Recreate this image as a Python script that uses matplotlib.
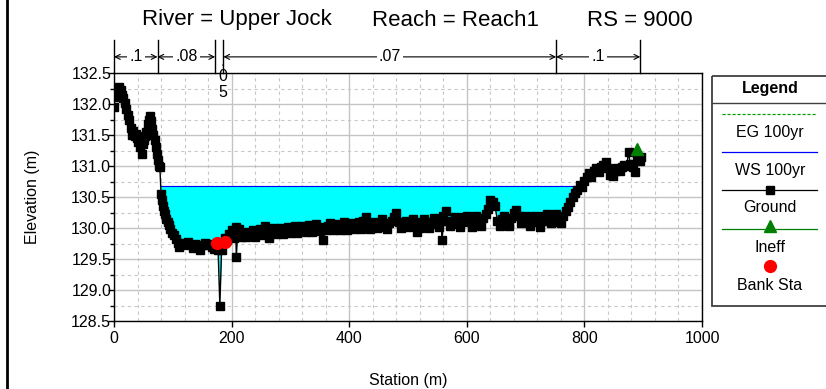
import matplotlib
matplotlib.use("Agg")
import matplotlib.pyplot as plt
from matplotlib.lines import Line2D
from matplotlib.patches import Rectangle
from matplotlib.ticker import MultipleLocator
import numpy as np

plt.rcParams['font.family'] = ['Liberation Sans', 'DejaVu Sans']

# ---------------- data ----------------
ground_sta = [0, 2, 4, 6, 9, 12, 14, 16, 18, 21, 24, 26, 29, 31, 33, 35, 37, 39, 41, 43, 45, 47, 49, 51, 53, 55, 57, 59, 61, 63, 65, 67, 69, 71, 73, 75, 77, 78,
              80, 81, 83, 85, 87, 89, 91, 93, 96, 99, 102, 105, 108, 111, 114, 118, 122, 126, 130, 134, 138, 142, 146, 150, 154, 158, 162, 166, 170, 174, 177,
              180, 183,
              186, 189, 192, 195, 198, 201, 204, 207, 208, 210, 213, 216, 220, 224, 228, 232, 236, 240, 244, 248, 252, 256, 260, 264, 268, 272, 276, 280, 284,
              288, 292, 296, 300, 304, 308, 312, 316, 320, 324, 328, 332, 336, 340, 344, 348, 352, 356, 360, 364, 368, 372, 376, 380, 384, 388, 392, 396, 400,
              404, 408, 412, 416, 420, 424, 428, 432, 436, 440, 444, 448, 452, 456, 460, 464, 468, 472, 476, 480, 484, 488, 492, 496, 500, 504, 508, 512, 516,
              520, 524, 528, 532, 536, 540, 544, 548, 552, 556, 558, 560, 564, 568, 572, 576, 580, 584, 588, 592, 596, 600, 604, 608, 612, 616, 620, 624, 628,
              632, 636, 640, 644, 648, 652, 656, 660, 664, 668, 672, 676, 680, 684, 688, 692, 696, 700, 704, 708, 712, 716, 720, 724, 728, 732, 736, 740, 744,
              748, 752, 756, 760, 764, 768, 772, 776, 780, 784, 788, 792, 796, 800, 804, 808, 812, 816, 820, 824, 828, 832, 836, 840, 844, 848, 852, 856, 860,
              864, 868, 872, 875, 878, 882, 886, 890, 894, 897]
ground_elev = [131.95, 132.12, 132.18, 132.25, 132.27, 132.22, 132.15, 132.10, 132.02, 131.92, 131.82, 131.74, 131.62, 131.50, 131.56, 131.48, 131.52,
               131.45, 131.38, 131.42, 131.30, 131.20, 131.36, 131.42, 131.48, 131.55, 131.68, 131.75, 131.80, 131.72, 131.60, 131.50, 131.42, 131.30,
               131.20, 131.10, 131.00, 130.98,
               130.55, 130.45, 130.35, 130.28, 130.22, 130.15, 130.10, 130.05, 129.98, 129.92, 129.88, 129.82, 129.76, 129.70, 129.72, 129.76, 129.74,
               129.78, 129.72, 129.68, 129.74, 129.70, 129.65, 129.72, 129.76, 129.74, 129.72, 129.70, 129.66, 129.72, 129.65,
               128.75, 129.65,
               129.76, 129.84, 129.80, 129.90, 129.86, 129.96, 129.84, 130.02, 129.53, 129.90, 129.98, 129.86, 129.92, 129.85, 129.94, 129.88, 129.96,
               129.86, 129.92, 129.98, 129.88, 130.04, 129.90, 129.84, 129.95, 130.00, 129.90, 129.96, 130.00, 129.90, 129.94, 130.02, 129.92, 129.97,
               130.03, 129.92, 129.98, 130.04, 129.93, 129.98, 130.05, 129.94, 130.00, 130.06, 129.95, 130.02, 129.80, 129.96, 130.04, 130.08, 129.96,
               130.02, 130.07, 129.96, 130.03, 130.09, 129.97, 130.04, 130.08, 129.98, 130.05, 130.10, 129.98, 130.12, 130.17, 130.04, 129.98, 130.06,
               130.10, 130.00, 130.08, 130.14, 130.02, 129.98, 130.08, 130.12, 130.18, 130.24, 130.10, 130.00, 130.06, 130.12, 130.02, 130.08, 130.14,
               130.04, 129.94, 130.00, 130.10, 130.15, 130.04, 130.00, 130.10, 130.16, 130.06, 130.02, 130.12, 129.80, 130.20, 130.27, 130.12, 130.04,
               130.12, 130.18, 130.06, 130.02, 130.12, 130.18, 130.20, 130.10, 130.02, 130.12, 130.20, 130.10, 130.04, 130.16, 130.22, 130.30, 130.45,
               130.42, 130.36, 130.12, 130.04, 130.14, 130.20, 130.10, 130.04, 130.16, 130.24, 130.29, 130.20, 130.08, 130.14, 130.20, 130.10, 130.04,
               130.14, 130.20, 130.10, 130.02, 130.12, 130.20, 130.23, 130.12, 130.08, 130.16, 130.22, 130.10, 130.08, 130.20, 130.28, 130.34, 130.42,
               130.50, 130.56, 130.62, 130.70, 130.66, 130.76, 130.82, 130.88, 130.82, 130.92, 130.96, 130.90, 130.98, 131.02, 131.06, 130.96, 130.86,
               130.84, 130.92, 130.96, 130.92, 130.98, 131.02, 131.00, 131.22, 131.04, 130.98, 130.90, 131.10, 131.08, 131.14]

ws_sta = [79, 791]
ws_elev = [130.68, 130.68]
eg_sta = [79, 791]
eg_elev = [130.685, 130.685]
ineff_sta = [890]
ineff_elev = [131.27]
bank_sta = [176, 189]
bank_elev = [129.76, 129.77]

n_breaks = [0, 74, 172, 186, 752, 895]
n_labels = ['.1', '.08', '.05', '.07', '.1']

title_parts = ["River = Upper Jock", "Reach = Reach1", "RS = 9000"]
legend_labels = ['EG 100yr', 'WS 100yr', 'Ground', 'Ineff', 'Bank Sta']

# ---------------- figure ----------------
W, H = 826, 389
fig = plt.figure(figsize=(W / 100, H / 100), dpi=100)
ax = fig.add_axes([114 / W, 1 - 321 / H, (702 - 114) / W, (321 - 73) / H])

ax.set_xlim(0, 1000)
ax.set_ylim(128.5, 132.5)
ax.xaxis.set_major_locator(MultipleLocator(200))
ax.xaxis.set_minor_locator(MultipleLocator(40))
ax.yaxis.set_major_locator(MultipleLocator(0.5))
ax.yaxis.set_minor_locator(MultipleLocator(0.25))
ax.yaxis.set_major_formatter(plt.FormatStrFormatter('%.1f'))
ax.grid(which='major', color='#c4c4c4', lw=1.0, ls='-')
ax.grid(which='minor', color='#c8c8c8', lw=0.8, ls=(0, (3, 3)))
ax.set_axisbelow(True)
ax.tick_params(which='major', direction='out', length=4, labelsize=11.5, width=1)
ax.tick_params(axis='y', which='major', pad=-2)
ax.tick_params(axis='x', which='major', pad=3)
ax.tick_params(which='minor', direction='out', length=3, width=1)
ax.tick_params(axis='x', which='minor', length=0)
for s in ax.spines.values():
    s.set_linewidth(1.0)

# water fill
gs = np.array(ground_sta, dtype=float)
ge = np.array(ground_elev, dtype=float)
wsl = ws_elev[0]
ax.fill_between(gs, ge, wsl, where=(ge < wsl) & (gs > ws_sta[0] - 2) & (gs < ws_sta[1] + 2),
                interpolate=True, color='#00ffff', lw=0, zorder=2)
ax.plot(eg_sta, eg_elev, color='#00a000', lw=0.8, ls=(0, (3, 2)), zorder=3)
ax.plot(ws_sta, ws_elev, color='#0000ff', lw=0.8, zorder=3)
ax.plot(ground_sta, ground_elev, color='black', lw=1.0, marker='s', markersize=6, zorder=4)
ax.plot(ineff_sta, ineff_elev, ls='none', marker='^', color='#008000', markersize=8, zorder=5)
ax.plot(bank_sta, bank_elev, ls='none', marker='o', color='#ff0000', markersize=8.5, zorder=6)

fig.text(33 / W, 1 - 197 / H, 'Elevation (m)', ha='center', va='center', rotation=90, fontsize=11.5)
fig.text(408 / W, 1 - 381 / H, 'Station (m)', ha='center', va='center', fontsize=11.5)

# Manning's n annotation above axes
ytop, yarr = 1.135, 1.065
for b in n_breaks:
    ax.plot([b, b], [1.0, ytop], color='black', lw=1.0, transform=ax.get_xaxis_transform(), clip_on=False)
for i, lab in enumerate(n_labels):
    a, b = n_breaks[i], n_breaks[i + 1]
    mid = (a + b) / 2
    if lab == '.05':
        ax.text(mid + 6, 0.985, '.\n0\n5', ha='center', va='center', fontsize=11.5,
                transform=ax.get_xaxis_transform(), linespacing=1.05, zorder=7)
        continue
    ax.annotate('', xy=(a, yarr), xytext=(b, yarr), xycoords=ax.get_xaxis_transform(),
                arrowprops=dict(arrowstyle='<->', lw=0.8, color='black', shrinkA=0, shrinkB=0,
                                mutation_scale=9), annotation_clip=False)
    ax.text(mid, yarr, lab, ha='center', va='center', fontsize=11.5, transform=ax.get_xaxis_transform(),
            bbox=dict(facecolor='white', edgecolor='none', pad=1.5))

# title in three parts
for xpix, part in zip([142, 372, 587], title_parts):
    fig.text(xpix / W, 1 - 20 / H, part, ha='left', va='center', fontsize=16)

# left frame line
fig.add_artist(Line2D([7 / W, 7 / W], [0, 1], color='black', lw=2))

# ---------------- legend box ----------------
lx0, lx1, ly0, ly1 = 712, 830, 76, 306
lax = fig.add_axes([lx0 / W, 1 - ly1 / H, (lx1 - lx0) / W, (ly1 - ly0) / H])
lax.set_xlim(lx0, lx1)
lax.set_ylim(ly1, ly0)
lax.axis('off')
lax.add_patch(Rectangle((lx0, ly0), lx1 - lx0, ly1 - ly0, fill=False, edgecolor='#404040', lw=1.3, clip_on=False))
lax.plot([lx0, lx1], [103, 103], color='#404040', lw=1.0)
cx = 770
lax.text(cx, 89, 'Legend', ha='center', va='center', fontsize=11.5, fontweight='bold')
lax.plot([722, 817], [114, 114], color='#00a000', lw=0.9, ls=(0, (2.5, 1.5)))
lax.text(cx, 132, legend_labels[0], ha='center', va='center', fontsize=11.5)
lax.plot([722, 817], [152, 152], color='#0000ff', lw=0.9)
lax.text(cx, 170, legend_labels[1], ha='center', va='center', fontsize=11.5)
lax.plot([722, 817], [190, 190], color='black', lw=0.9)
lax.plot([cx], [190], marker='s', color='black', markersize=5.5)
lax.text(cx, 208, legend_labels[2], ha='center', va='center', fontsize=11.5)
lax.plot([722, 817], [229, 229], color='#008000', lw=0.9)
lax.plot([cx], [226], marker='^', color='#008000', markersize=8)
lax.text(cx, 247, legend_labels[3], ha='center', va='center', fontsize=11.5)
lax.plot([cx], [266], marker='o', color='#ff0000', markersize=8.5)
lax.text(cx, 285, legend_labels[4], ha='center', va='center', fontsize=11.5)

fig.savefig('out.png', dpi=100)
